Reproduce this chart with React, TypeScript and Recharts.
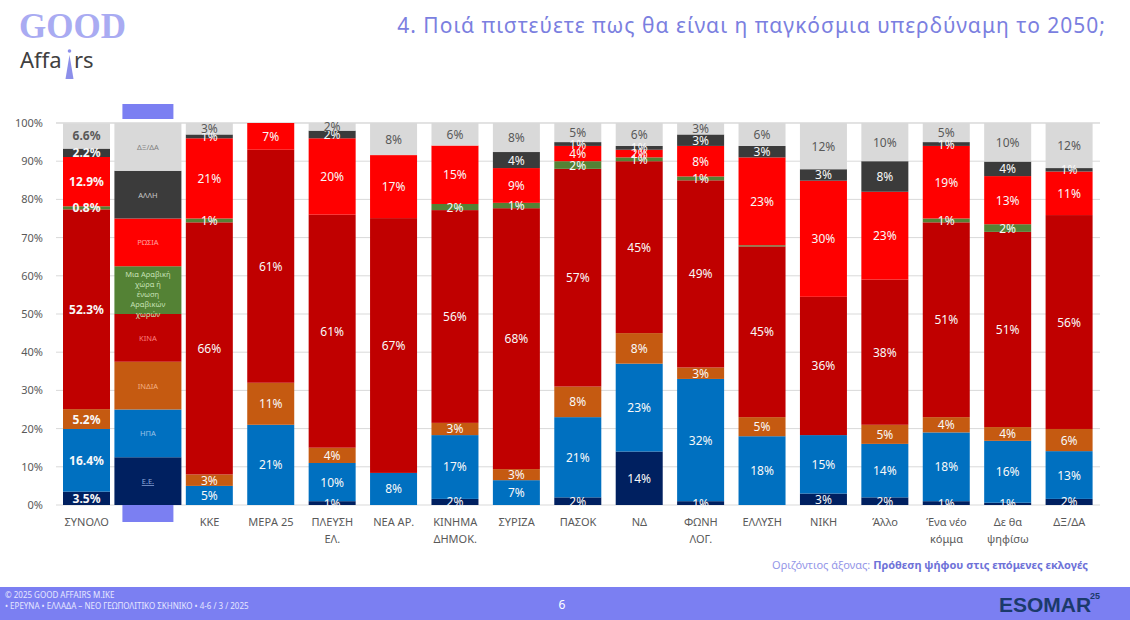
import React from "react";
import { BarChart, Bar, XAxis, YAxis, CartesianGrid, LabelList } from "recharts";

// categories (the empty one is the in-chart legend column)
const categories = [
  "ΣΥΝΟΛΟ",
  "",
  "ΚΚΕ",
  "ΜΕΡΑ 25",
  "ΠΛΕΥΣΗ\nΕΛ.",
  "ΝΕΑ ΑΡ.",
  "ΚΙΝΗΜΑ\nΔΗΜΟΚ.",
  "ΣΥΡΙΖΑ",
  "ΠΑΣΟΚ",
  "ΝΔ",
  "ΦΩΝΗ\nΛΟΓ.",
  "ΕΛΛΥΣΗ",
  "ΝΙΚΗ",
  "Άλλο",
  "Ένα νέο\nκόμμα",
  "Δε θα\nψηφίσω",
  "ΔΞ/ΔΑ",
];

const seriesNames = ["Ε.Ε.", "ΗΠΑ", "ΙΝΔΙΑ", "ΚΙΝΑ", "Αραβική", "ΡΩΣΙΑ", "ΑΛΛΗ", "ΔΞ/ΔΑ"];
const seriesColors = ["#002060", "#0070C0", "#C55A11", "#C00000", "#548235", "#FF0000", "#3B3B3B", "#D9D9D9"];
const legendTextColors = ["#8FAADC", "#9DC3E6", "#F4B183", "#FF8080", "#C5E0B4", "#FFA0A0", "#C8C8C8", "#7F7F7F"];
const legendLines = [
  ["Ε.Ε."],
  ["ΗΠΑ"],
  ["ΙΝΔΙΑ"],
  ["ΚΙΝΑ"],
  ["Μια Αραβική", "χώρα ή", "ένωση", "Αραβικών", "χωρών"],
  ["ΡΩΣΙΑ"],
  ["ΑΛΛΗ"],
  ["ΔΞ/ΔΑ"],
];

// values per series, one per category (bottom to top of each bar)
const eu =     [3.5, 12.5, 0, 0, 1, 0, 1.6, 0, 2, 14, 1, 0, 3, 2, 1, 0.6, 1.6];
const usa =    [16.4, 12.5, 5, 21, 10, 8.4, 16.7, 6.5, 21, 23, 32, 18, 15.3, 14, 18, 16.2, 12.5];
const india =  [5.2, 12.5, 3, 11, 4, 0, 3.2, 2.9, 8, 8, 3, 5, 0, 5, 4, 3.6, 5.8];
const china =  [52.3, 12.5, 66, 61, 61, 66.7, 55.7, 68.3, 57, 45, 49, 44.7, 36.2, 38, 51, 51.1, 56];
const arab =   [0.8, 12.5, 1, 0, 0, 0, 1.6, 1.4, 2, 1, 1, 0.3, 0, 0, 1, 2, 0];
const russia = [12.9, 12.5, 21, 7, 20, 16.5, 15.3, 9.1, 4, 2, 8, 23, 30.4, 23, 19, 12.6, 11.4];
const other =  [2.2, 12.5, 1, 0, 2, 0, 0, 4.2, 1, 1, 3, 3, 3, 8, 1, 3.8, 0.9];
const dkna =   [6.6, 12.5, 3, 0, 2, 8.4, 5.9, 7.6, 5, 6, 3, 6, 12.1, 10, 5, 10.1, 11.8];

const yTicks = [0, 10, 20, 30, 40, 50, 60, 70, 80, 90, 100];

const seriesValues = [eu, usa, india, china, arab, russia, other, dkna];
const keys = ["s0", "s1", "s2", "s3", "s4", "s5", "s6", "s7"];

const data = categories.map((name, i) => {
  const row: Record<string, any> = { name };
  seriesValues.forEach((vals, s) => {
    row[keys[s]] = vals[i];
  });
  return row;
});

const FONT = "'Noto Sans', 'Open Sans', sans-serif";
const PURPLE = "#7B7FF2";
const LEGEND_IDX = 1;

function makeShape(s: number) {
  return (props: any) => {
    const { x, y, width, height, fill, index } = props;
    if (height == null || width == null) return <g />;
    if (index === LEGEND_IDX) {
      const wx = x - 10;
      const ww = width + 20;
      return (
        <g>
          <rect x={wx} y={y} width={ww} height={Math.max(height, 0)} fill={fill} />
          {s === 0 && <rect x={x - 2} y={y + height} width={width + 4} height={17} fill={PURPLE} />}
          {s === 7 && <rect x={x - 2} y={y - 19} width={width + 4} height={15} fill={PURPLE} />}
        </g>
      );
    }
    return <rect x={x} y={y} width={width} height={Math.max(height, 0)} fill={fill} />;
  };
}

function makeLabel(s: number) {
  return (props: any) => {
    const { x, y, width, height, value, index } = props;
    if (value == null || value <= 0) return null;
    const cx = x + width / 2;
    const cy = y + height / 2;
    if (index === LEGEND_IDX) {
      const lines = legendLines[s];
      const lh = 10;
      const start = lines.length > 1 ? y + 8 : cy;
      return (
        <text
          x={cx}
          y={start}
          textAnchor="middle"
          dominantBaseline="central"
          fontFamily={FONT}
          fontSize={7.5}
          fill={legendTextColors[s]}
          textDecoration={s === 0 ? "underline" : undefined}
        >
          {lines.map((l, i) => (
            <tspan key={i} x={cx} dy={i === 0 ? 0 : lh}>
              {l}
            </tspan>
          ))}
        </text>
      );
    }
    if (value < 0.5) return null;
    const total = index === 0;
    const txt = total ? value.toFixed(1) + "%" : Math.round(value) + "%";
    return (
      <text
        x={cx}
        y={cy}
        textAnchor="middle"
        dominantBaseline="central"
        fontFamily={FONT}
        fontSize={12}
        fontWeight={total ? 700 : 400}
        fill={s === 7 ? "#595959" : "#F8F8F8"}
      >
        {txt}
      </text>
    );
  };
}

function XTick(props: any) {
  const { x, y, payload } = props;
  const lines = String(payload.value).split("\n");
  return (
    <text x={x} y={y + 13} textAnchor="middle" fontFamily={FONT} fontSize={11} fill="#595959">
      {lines.map((l, i) => (
        <tspan key={i} x={x} dy={i === 0 ? 0 : 17}>
          {l}
        </tspan>
      ))}
    </text>
  );
}

export default function App() {
  return (
    <div style={{ position: "absolute", left: 0, top: 0, width: 1130, height: 620, background: "#fff", overflow: "hidden" }}>
      <BarChart
        width={1130}
        height={560}
        data={data}
        margin={{ top: 123, right: 30, bottom: 15, left: 6 }}
        barSize={47}
        style={{ position: "absolute", left: 0, top: 0 }}
      >
        <CartesianGrid vertical={false} stroke="#D9D9D9" />
        <XAxis dataKey="name" axisLine={false} tickLine={false} interval={0} height={40} tick={<XTick />} />
        <YAxis
          domain={[0, 100]}
          ticks={yTicks}
          tickFormatter={(v) => `${v}%`}
          axisLine={false}
          tickLine={false}
          width={50}
          tickMargin={7}
          tick={{ fontSize: 11, fill: "#595959", fontFamily: FONT }}
        />
        {keys.map((k, s) => (
          <Bar key={k} dataKey={k} stackId="a" fill={seriesColors[s]} name={seriesNames[s]} isAnimationActive={false} shape={makeShape(s)}>
            <LabelList dataKey={k} content={makeLabel(s)} />
          </Bar>
        ))}
      </BarChart>

      <svg width={1130} height={620} style={{ position: "absolute", left: 0, top: 0, pointerEvents: "none" }}>
        {/* logo */}
        <text x={19} y={38} fontFamily="'Liberation Serif', serif" fontWeight={700} fontSize={35} fill="#A9ABF2">
          GOOD
        </text>
        <text x={20} y={68} fontFamily={FONT} fontSize={22} fill="#404040">
          Affa
        </text>
        <text x={74} y={68} fontFamily={FONT} fontSize={22} fill="#404040">
          rs
        </text>
        <circle cx={69.5} cy={51} r={1.8} fill="#8C8FEA" />
        <polygon points="69.5,55 73.5,79 65.5,79" fill="#8C8FEA" />

        {/* title */}
        <text x={1106} y={33} textAnchor="end" fontFamily={FONT} fontSize={21} letterSpacing={1} fill="#7B7FE0">
          4. Ποιά πιστεύετε πως θα είναι η παγκόσμια υπερδύναμη το 2050;
        </text>

        {/* axis caption */}
        <text x={1088} y={569} textAnchor="end" fontFamily={FONT} fontSize={11} fill="#9496E8">
          Οριζόντιος άξονας:{" "}
          <tspan fontWeight={700} fill="#6E72D8">
            Πρόθεση ψήφου στις επόμενες εκλογές
          </tspan>
        </text>

        {/* footer */}
        <rect x={0} y={587} width={1130} height={33} fill={PURPLE} />
        <text x={5} y={598} fontFamily={FONT} fontSize={8} fill="#E6E7FF">
          © 2025 GOOD AFFAIRS M.IKE
        </text>
        <text x={5} y={609} fontFamily={FONT} fontSize={8} fill="#E6E7FF">
          • ΕΡΕΥΝΑ • ΕΛΛΑΔΑ – ΝΕΟ ΓΕΩΠΟΛΙΤΙΚΟ ΣΚΗΝΙΚΟ • 4-6 / 3 / 2025
        </text>
        <text x={562} y={609} textAnchor="middle" fontFamily={FONT} fontSize={12} fill="#FFFFFF">
          6
        </text>
        <text x={999} y={612} fontFamily="'Liberation Sans', sans-serif" fontWeight={700} fontSize={21} fill="#1B3A6B">
          ESOMAR
        </text>
        <text x={1090} y={599} fontFamily="'Liberation Sans', sans-serif" fontWeight={700} fontSize={9} fill="#1B3A6B">
          25
        </text>
      </svg>
    </div>
  );
}
